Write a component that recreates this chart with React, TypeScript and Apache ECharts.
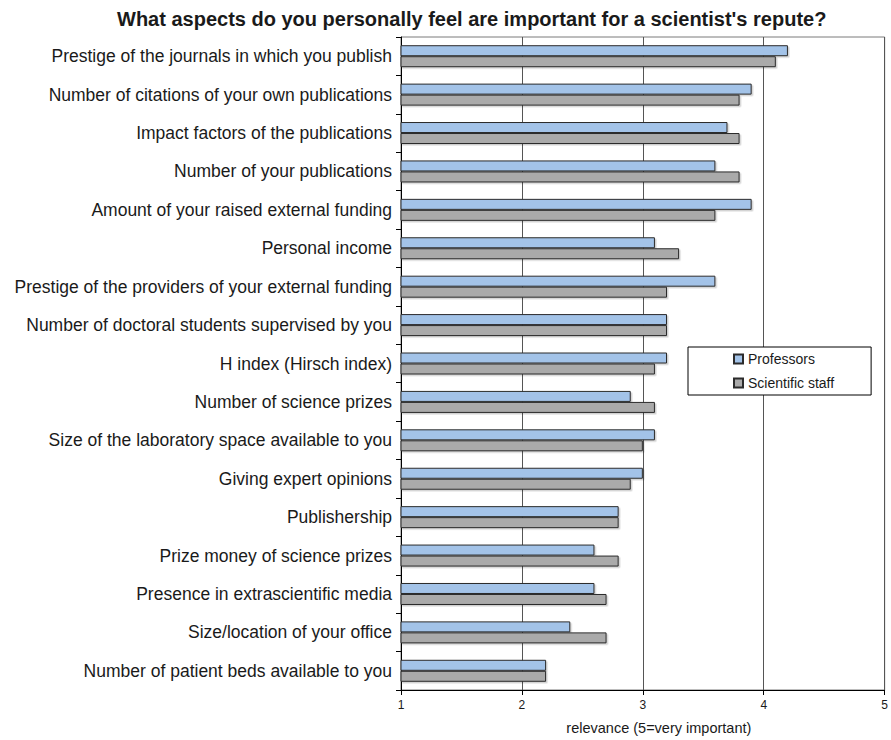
import React, { useEffect, useRef } from "react";
import * as echarts from "echarts";

const categories = [
  "Prestige of the journals in which you publish",
  "Number of citations of your own publications",
  "Impact factors of the publications",
  "Number of your publications",
  "Amount of your raised external funding",
  "Personal income",
  "Prestige of the providers of your external funding",
  "Number of doctoral students supervised by you",
  "H index (Hirsch index)",
  "Number of science prizes",
  "Size of the laboratory space available to you",
  "Giving expert opinions",
  "Publishership",
  "Prize money of science prizes",
  "Presence in extrascientific media",
  "Size/location of your office",
  "Number of patient beds available to you",
];

const professors = [4.2, 3.9, 3.7, 3.6, 3.9, 3.1, 3.6, 3.2, 3.2, 2.9, 3.1, 3.0, 2.8, 2.6, 2.6, 2.4, 2.2];
const scientificStaff = [4.1, 3.8, 3.8, 3.8, 3.6, 3.3, 3.2, 3.2, 3.1, 3.1, 3.0, 2.9, 2.8, 2.8, 2.7, 2.7, 2.2];

const xTicks = [1, 2, 3, 4, 5];

const FONT = "Liberation Sans, Arial, sans-serif";

const barShadow = {
  shadowColor: "rgba(0,0,0,0.18)",
  shadowBlur: 0,
  shadowOffsetX: 1.5,
  shadowOffsetY: 1.5,
};

export default function App() {
  const ref = useRef<HTMLDivElement>(null);

  useEffect(() => {
    document.body.style.margin = "0";
    if (!ref.current) return;
    const chart = echarts.init(ref.current, undefined, { renderer: "svg" });
    chart.setOption({
      animation: false,
      backgroundColor: "#ffffff",
      textStyle: { fontFamily: FONT },
      title: {
        text: "What aspects do you personally feel are important for a scientist's repute?",
        left: 112,
        top: 4,
        textStyle: { fontSize: 20, fontWeight: "bold", color: "#1a1a1a", fontFamily: FONT },
      },
      legend: {
        orient: "vertical",
        left: 688,
        top: 347,
        padding: [5, 37, 5, 45],
        itemWidth: 9,
        itemHeight: 9,
        itemGap: 10,
        backgroundColor: "#ffffff",
        borderColor: "#000000",
        borderWidth: 1,
        textStyle: { fontSize: 14, color: "#1a1a1a", fontFamily: FONT },
        data: [
          { name: "Professors", icon: "rect" },
          { name: "Scientific staff", icon: "rect" },
        ],
      },
      grid: { left: 401, right: 5, top: 37, bottom: 48, containLabel: false, show: true, borderColor: "#7a7a7a", borderWidth: 1 },
      xAxis: {
        type: "value",
        min: xTicks[0],
        max: xTicks[xTicks.length - 1],
        interval: 1,
        name: "relevance (5=very important)",
        nameLocation: "middle",
        nameGap: 30,
        nameTextStyle: { fontSize: 14.5, color: "#1a1a1a", fontFamily: FONT, padding: [0, 0, 0, 32] },
        axisLine: { show: true, lineStyle: { color: "#000000", width: 1 } },
        axisTick: { show: true, length: 5, lineStyle: { color: "#000000" } },
        axisLabel: { fontSize: 12, color: "#1a1a1a", margin: 9, fontFamily: FONT },
        splitLine: { show: true, lineStyle: { color: "#555555", width: 1 } },
      },
      yAxis: {
        type: "category",
        inverse: true,
        data: categories,
        axisLine: { show: true, lineStyle: { color: "#000000", width: 1 } },
        axisTick: { show: true, length: 5, lineStyle: { color: "#000000" } },
        axisLabel: { fontSize: 17.5, color: "#1a1a1a", margin: 9, fontFamily: FONT },
        splitLine: { show: false },
      },
      series: [
        {
          name: "Professors",
          type: "bar",
          data: professors,
          barWidth: 11,
          barGap: "0%",
          itemStyle: { color: "#a3c3e8", borderColor: "#2b2b2b", borderWidth: 1, ...barShadow },
        },
        {
          name: "Scientific staff",
          type: "bar",
          data: scientificStaff,
          barWidth: 11,
          barGap: "0%",
          itemStyle: { color: "#aaaaaa", borderColor: "#2b2b2b", borderWidth: 1, ...barShadow },
        },
      ],
    });
    return () => chart.dispose();
  }, []);

  return <div ref={ref} style={{ width: 891, height: 740 }} />;
}
